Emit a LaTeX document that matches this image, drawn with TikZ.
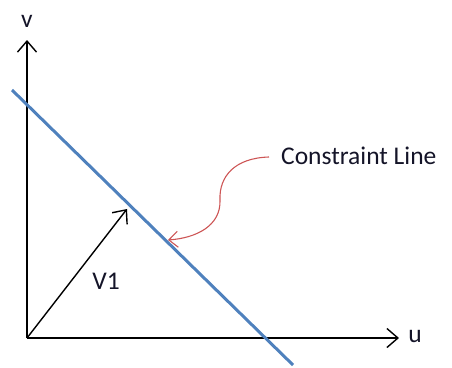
\documentclass[tikz,border=0pt]{standalone}
\usepackage{fontspec}
\setmainfont{Carlito}
\usetikzlibrary{arrows.meta}
\definecolor{lineblue}{RGB}{79,129,189}
\definecolor{curvered}{RGB}{205,85,85}
\definecolor{txt}{RGB}{20,20,40}
\begin{document}
\begin{tikzpicture}[x=1pt,y=-1pt,
  axis/.style={line width=1.4pt,-{Straight Barb[length=11pt,width=19pt,line width=1.4pt]}},
  lbl/.style={inner sep=0pt,text=txt,font=\fontsize{25.5}{30}\selectfont},
  cline/.style={lineblue,line width=3pt},
  pointer/.style={curvered,line width=1.1pt,-{Straight Barb[length=9pt,width=16pt,line width=1.1pt]}}]
\useasboundingbox (0,0) rectangle (452,367);
\coordinate (O) at (27,338);
\coordinate (vtop) at (27,40);
\coordinate (uend) at (399,338);
\coordinate (la) at (12,90);
\coordinate (lb) at (293,365);
\coordinate (v1end) at (127,209);
\coordinate (ctip) at (168,240);
\draw[axis] (O) -- (vtop);
\draw[axis] (O) -- (uend);
\draw[cline] (la) -- (lb);
\draw[axis] (O) -- (v1end);
\node[lbl] (vlab) at (27,21) {v};
\node[lbl] (ulab) at (415,336) {u};
\node[lbl] (v1lab) at (106,281) {V1};
\node[lbl,anchor=west] (clab) at (281,156) {Constraint Line};
\draw[pointer] (clab.west) ++(-12,1) coordinate (cs) .. controls (235,158) and (219,176) .. (220,200) .. controls (221,226) and (196,238) .. (ctip);
\end{tikzpicture}
\end{document}
